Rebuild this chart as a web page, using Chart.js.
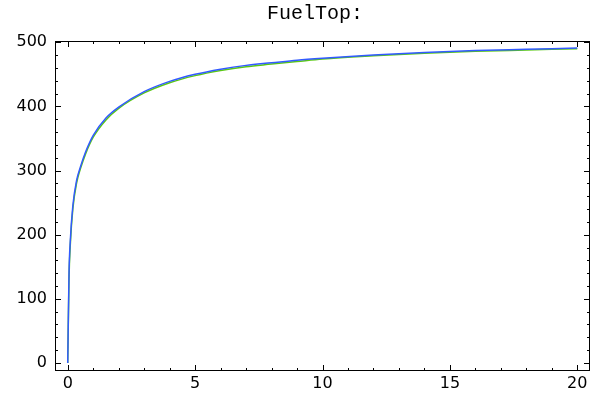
<!DOCTYPE html>
<html>
<head>
<meta charset="utf-8">
<script src="https://cdn.jsdelivr.net/npm/chart.js@4"></script>
<style>
  html, body { margin: 0; padding: 0; background: #fff; }
  #wrap { width: 592px; height: 394px; }
</style>
</head>
<body>
<div id="wrap"><canvas id="myChart"></canvas></div>
<script>
// sample times
const times = [0, 0.05, 0.1, 0.2, 0.35, 0.5, 0.7, 1, 1.5, 2, 3, 4, 5, 6, 7, 8, 9, 10, 12, 14, 16, 18, 20];
const fuelBlue = [0, 140, 190, 245, 285, 306, 329, 355, 382, 399, 423, 439, 450, 458, 464, 468, 472, 475, 480, 484, 487, 489, 491];
const fuelGreen = [0, 132, 184, 240, 281, 303, 326, 352, 379, 397, 421, 437, 448, 456, 462, 466, 470, 474, 479, 483, 486, 488, 490];
const xTicks = [0, 5, 10, 15, 20];
const yTicks = [0, 100, 200, 300, 400, 500];
const titleText = "FuelTop:";

function toPoints(ys) {
    return times.map((t, i) => ({ x: t, y: ys[i] }));
}

// Mathematica style frame with ticks pointing inward on all four sides
const framePlugin = {
    id: 'frame',
    afterDraw(chart) {
        const ctx = chart.ctx;
        const a = chart.chartArea;
        const xs = chart.scales.x;
        const ys = chart.scales.y;
        ctx.save();
        ctx.strokeStyle = '#000';
        ctx.lineWidth = 1;
        ctx.strokeRect(a.left + 0.5, a.top + 0.5, a.right - a.left - 1, a.bottom - a.top - 1);
        ctx.beginPath();
        for (let v = 0; v <= 20; v += 1) {
            const len = v % 5 == 0 ? 6 : 3;
            const px = Math.round(xs.getPixelForValue(v)) + 0.5;
            ctx.moveTo(px, a.bottom); ctx.lineTo(px, a.bottom - len);
            ctx.moveTo(px, a.top); ctx.lineTo(px, a.top + len);
        }
        for (let v = 0; v <= 500; v += 20) {
            const len = v % 100 == 0 ? 6 : 3;
            const py = Math.round(ys.getPixelForValue(v)) + 0.5;
            ctx.moveTo(a.left, py); ctx.lineTo(a.left + len, py);
            ctx.moveTo(a.right, py); ctx.lineTo(a.right - len, py);
        }
        ctx.stroke();
        ctx.fillStyle = '#000';
        ctx.font = '20px "Liberation Mono"';
        ctx.textAlign = 'center';
        ctx.textBaseline = 'alphabetic';
        ctx.fillText(titleText, 315, 19);
        ctx.restore();
    }
};

let ctx = document.getElementById('myChart').getContext('2d');
let myChart = new Chart(ctx, {
    type: 'line',
    data: {
        datasets: [{
            label: 'blue',
            data: toPoints(fuelBlue),
            borderColor: 'rgb(50,90,255)',
            borderWidth: 1.5,
            pointRadius: 0,
            cubicInterpolationMode: 'monotone',
            fill: false
        }, {
            label: 'green',
            data: toPoints(fuelGreen),
            borderColor: 'rgb(90,200,20)',
            borderWidth: 1.5,
            pointRadius: 0,
            cubicInterpolationMode: 'monotone',
            fill: false
        }]
    },
    options: {
        responsive: true,
        maintainAspectRatio: false,
        animation: false,
        layout: { padding: { top: 41, right: 2, left: 0, bottom: 0 } },
        plugins: { legend: { display: false }, tooltip: { enabled: false } },
        scales: {
            x: {
                type: 'linear',
                min: -0.5,
                max: 20.5,
                grid: { display: false, drawTicks: false },
                border: { display: false },
                afterBuildTicks: s => { s.ticks = xTicks.map(v => ({ value: v })); },
                afterFit: s => { s.height = 23; },
                ticks: { color: '#000', padding: 3, maxRotation: 0, font: { family: 'DejaVu Sans', size: 16 } }
            },
            y: {
                min: -12.5,
                max: 502,
                grid: { display: false, drawTicks: false },
                border: { display: false },
                afterBuildTicks: s => { s.ticks = yTicks.map(v => ({ value: v })); },
                afterFit: s => { s.width = 55; },
                ticks: { color: '#000', padding: 8, font: { family: 'DejaVu Sans', size: 16 } }
            }
        }
    },
    plugins: [framePlugin]
});
</script>
</body>
</html>
